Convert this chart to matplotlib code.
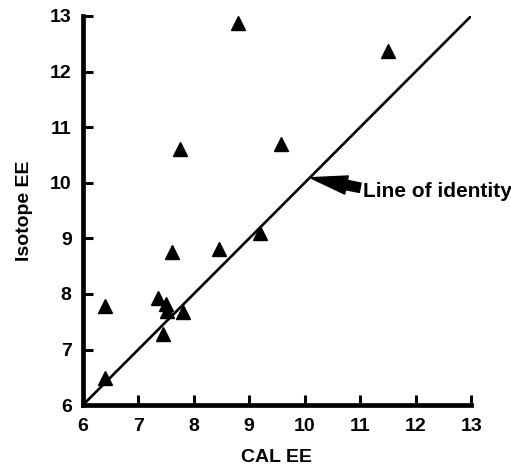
import matplotlib
matplotlib.use("Agg")
import matplotlib.pyplot as plt

cal_ee = [6.4, 6.4, 7.35, 7.45, 7.5, 7.52, 7.8, 7.6, 8.45, 7.75, 9.2, 9.57, 8.8, 11.5]
isotope_ee = [7.78, 6.48, 7.93, 7.28, 7.82, 7.7, 7.68, 8.75, 8.8, 10.6, 9.1, 10.7, 12.88, 12.37]
ticks = [6, 7, 8, 9, 10, 11, 12, 13]
identity = [6, 13]

plt.rcParams['font.family'] = ['Liberation Sans', 'DejaVu Sans']

fig = plt.figure(figsize=(5.11, 4.70), dpi=100)
ax = fig.add_axes([0.162, 0.138, 0.760, 0.828])

ax.plot(identity, identity, color='black', lw=1.9, zorder=2, solid_capstyle='butt')
ax.plot(cal_ee, isotope_ee, linestyle='none', marker='^', color='black',
        markersize=10, zorder=3)

ax.set_xlim(6, 13)
ax.set_ylim(6, 13)
ax.set_xticks(ticks)
ax.set_yticks(ticks)
ax.set_xticklabels([str(t) for t in ticks], fontsize=14, fontweight='bold')
ax.set_yticklabels([str(t) for t in ticks], fontsize=14, fontweight='bold')
ax.tick_params(direction='in', length=7, width=2.2)
ax.tick_params(axis='x', pad=9)
ax.tick_params(axis='y', pad=8)
for s in ['top', 'right']:
    ax.spines[s].set_visible(False)
for s in ['left', 'bottom']:
    ax.spines[s].set_linewidth(3.4)

ax.set_xlabel('CAL EE', fontsize=14, fontweight='bold', labelpad=10)
ax.set_ylabel('Isotope EE', fontsize=14, fontweight='bold', labelpad=12)

# arrow
ax.annotate('', xy=(10.10, 10.09), xytext=(11.0, 9.91),
            arrowprops=dict(arrowstyle='simple,head_length=1.4,head_width=0.7,tail_width=0.36',
                            color='black', shrinkA=0, shrinkB=0, mutation_scale=19))
ax.text(11.05, 9.84, 'Line of identity', fontsize=15, fontweight='bold',
        va='center', ha='left')

fig.savefig('out.png', dpi=100)
